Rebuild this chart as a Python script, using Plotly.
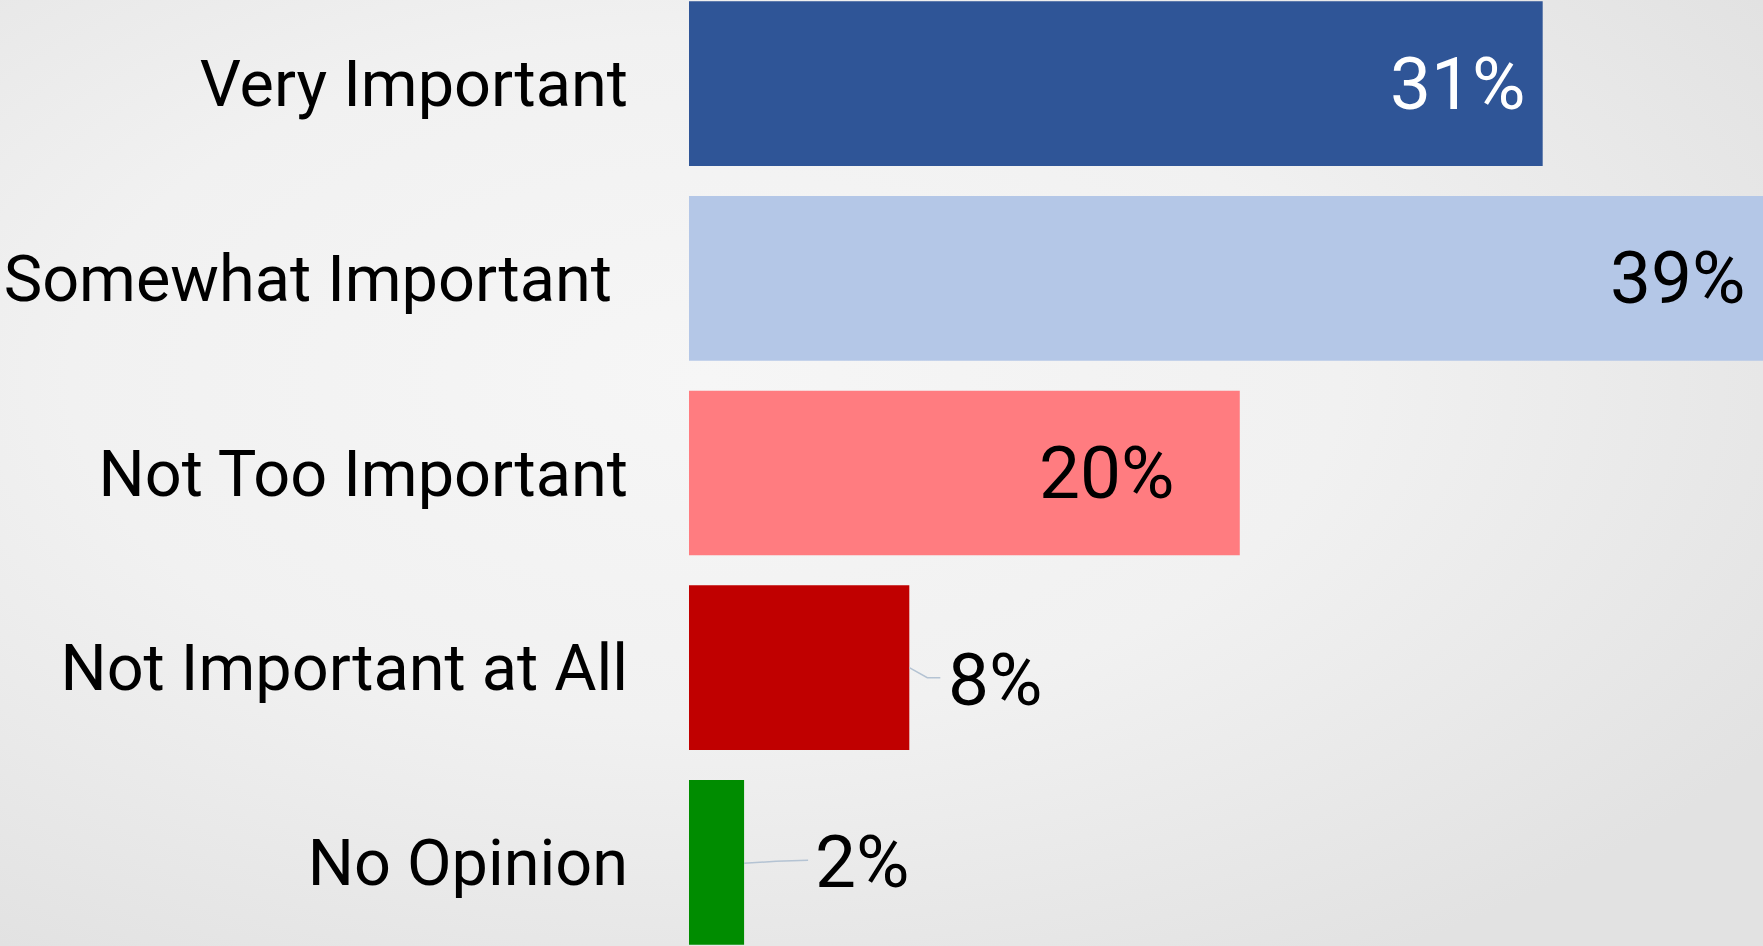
import base64
import plotly.graph_objects as go

categories = ["Very Important", "Somewhat Important", "Not Too Important",
              "Not Important at All", "No Opinion"]
tick_labels = ["Very Important", "Somewhat Important\u00a0", "Not Too Important",
               "Not Important at All", "No Opinion"]
values = [31, 39, 20, 8, 2]
value_labels = ["31%", "39%", "20%", "8%", "2%"]
colors = ["#2F5597", "#B4C7E7", "#FF7C80", "#C00000", "#008C00"]
label_colors = ["white", "black", "black", "black", "black"]

W, H = 1763, 946
L = 689

fig = go.Figure()
fig.add_trace(go.Bar(
    x=values, y=categories, orientation="h",
    marker=dict(color=colors, line=dict(width=0)),
    hoverinfo="skip", showlegend=False,
))

# value labels
anchors = ["right", "right", "right", "left", "left"]
xshifts = [-15, -15, -63, 37, 69]
yshifts = [0, 0, 0, -12, 0]
for cat, v, t, c, a, xs, ys in zip(categories, values, value_labels, label_colors, anchors, xshifts, yshifts):
    fig.add_annotation(x=v, y=cat, xref="x", yref="y", text=t, showarrow=False,
                       xanchor=a, yanchor="middle", xshift=xs, yshift=ys,
                       font=dict(family="Roboto", size=73, color=c))

# leader lines for outside labels
leaders = [(3, "M 0 0 L 18 -10 L 31 -10"), (4, "M 0 -1 L 32 1 L 64 2")]
for i, p in leaders:
    fig.add_shape(type="path", xref="x", yref="y", xsizemode="pixel", ysizemode="pixel",
                  xanchor=values[i], yanchor=categories[i], path=p,
                  line=dict(color="#B4C3D3", width=1.5))

svg = (f'<svg xmlns="http://www.w3.org/2000/svg" width="{W}" height="{H}" viewBox="0 0 {W} {H}" preserveAspectRatio="none">'
       '<defs><radialGradient id="g" cx="0.40" cy="0.40" r="0.72">'
       '<stop offset="0" stop-color="#f6f6f6"/><stop offset="0.5" stop-color="#f1f1f1"/>'
       '<stop offset="1" stop-color="#e2e2e2"/></radialGradient></defs>'
       f'<rect x="0" y="0" width="{W}" height="{H}" fill="url(#g)"/></svg>')
uri = "data:image/svg+xml;base64," + base64.b64encode(svg.encode()).decode()
pw = W - L
fig.add_layout_image(source=uri, xref="paper", yref="paper", x=-L / pw, y=1,
                     sizex=W / pw, sizey=1, sizing="stretch", xanchor="left",
                     yanchor="top", layer="below")

fig.update_layout(
    width=W, height=H,
    margin=dict(l=L, r=0, t=0, b=0, autoexpand=False),
    paper_bgcolor="#ececec", plot_bgcolor="rgba(0,0,0,0)",
    bargap=0.154,
    font=dict(family="Roboto", color="black"),
    xaxis=dict(range=[0, 39], visible=False, fixedrange=True, automargin=False),
    yaxis=dict(categoryorder="array", categoryarray=categories,
               tickmode="array", tickvals=categories, ticktext=tick_labels,
               range=[4.43, -0.43], showgrid=False, zeroline=False, showline=False,
               ticks="", ticklabelstandoff=60, automargin=False,
               tickfont=dict(family="Roboto", size=64.8, color="black"),
               fixedrange=True),
)

fig.write_html("out.html", config={"displayModeBar": False},
               post_script="document.body.style.margin='0';document.body.style.overflow='hidden';")
